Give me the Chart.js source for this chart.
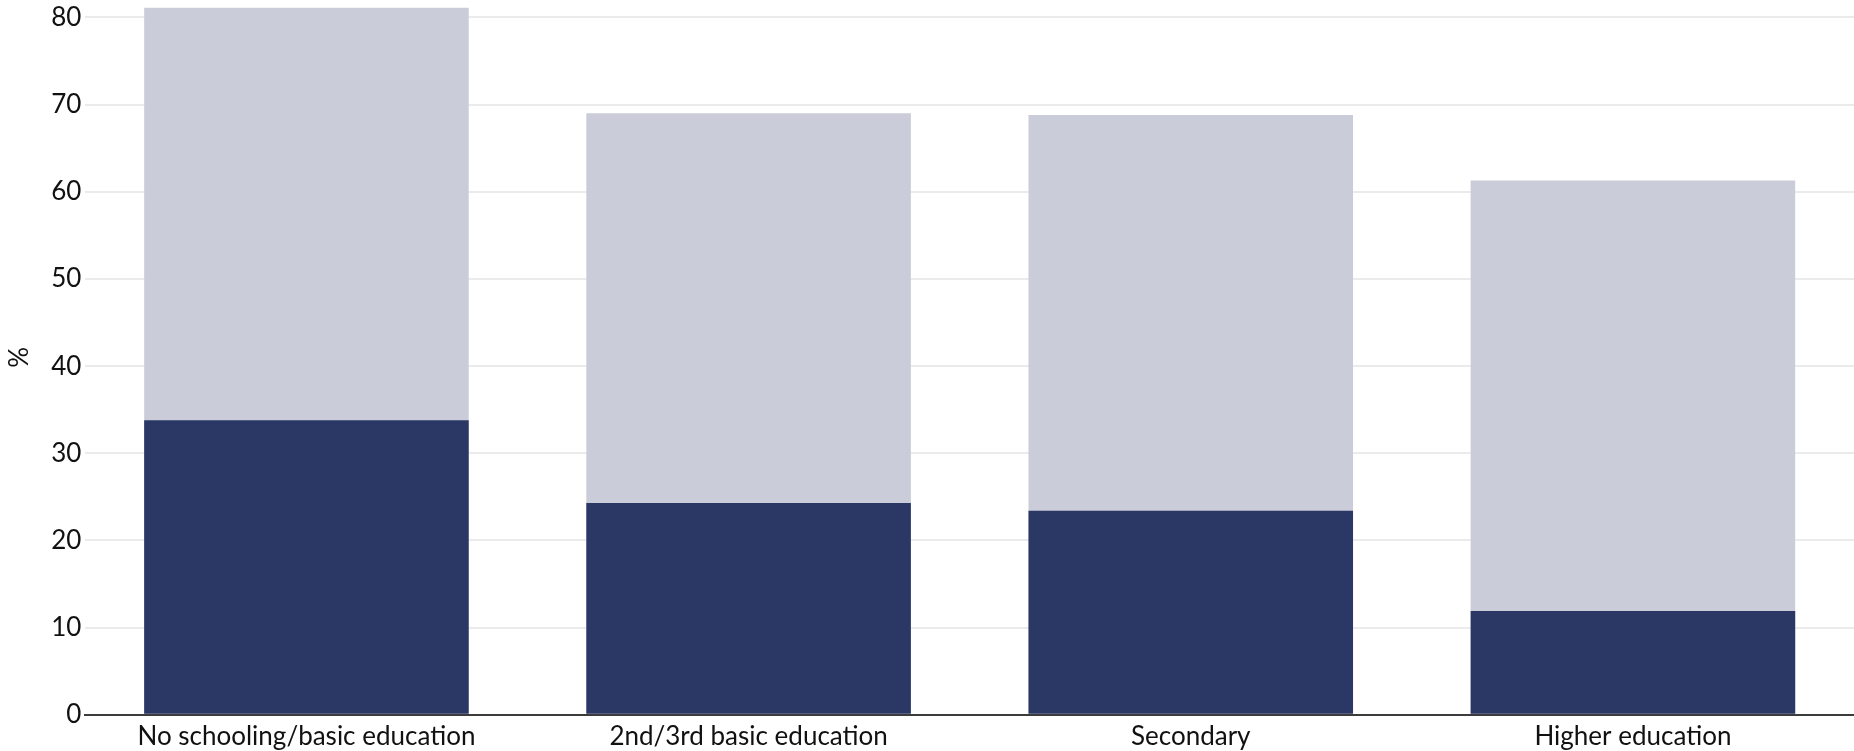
<!DOCTYPE html>
<html>
<head>
<meta charset="utf-8">
<script src="https://cdn.jsdelivr.net/npm/chart.js@4"></script>
<style>
  html, body { margin: 0; padding: 0; background: #fff; }
  #wrap { width: 1854px; height: 751px; position: relative; }
</style>
</head>
<body>
<div id="wrap"><canvas id="bar-chart"></canvas></div>
<script>
const categories = ["No schooling/basic education", "2nd/3rd basic education", "Secondary", "Higher education"];
const totalValues = [81.1, 69.0, 68.8, 61.3];
const subsetValues = [33.8, 24.3, 23.4, 11.9];
const yTicks = [0, 10, 20, 30, 40, 50, 60, 70, 80];

const font = { family: "Lato", size: 26 };

new Chart(document.getElementById("bar-chart"), {
    type: 'bar',
    data: {
        labels: categories,
        datasets: [{
            label: "Subset",
            data: subsetValues,
            backgroundColor: '#2b3764',
            order: 1
        },
        {
            label: "Total",
            data: totalValues,
            backgroundColor: '#cacdd9',
            order: 2
        }]
    },
    options: {
        responsive: true,
        maintainAspectRatio: false,
        animation: false,
        layout: { padding: { top: 0, right: 0, bottom: -7, left: 4 } },
        datasets: { bar: { categoryPercentage: 0.734, barPercentage: 1 } },
        plugins: {
            legend: { display: false },
            tooltip: { enabled: false }
        },
        scales: {
            x: {
                stacked: true,
                grid: { display: false, drawTicks: false },
                border: { display: true, color: '#3c3c3c', width: 2 },
                ticks: { color: '#111', font: font, padding: 6, maxRotation: 0 }
            },
            y: {
                stacked: false,
                min: 0,
                max: 82,
                afterBuildTicks: (axis) => { axis.ticks = yTicks.map(v => ({ value: v })); },
                afterFit: (axis) => { axis.paddingTop = 0; },
                grid: { color: '#ebebeb', lineWidth: 2, drawTicks: false },
                border: { display: false },
                ticks: { color: '#111', font: font, padding: 4 },
                title: { display: true, text: '%', color: '#111', font: font, padding: { top: 0, bottom: 12 } }
            }
        }
    }
});
</script>
</body>
</html>
